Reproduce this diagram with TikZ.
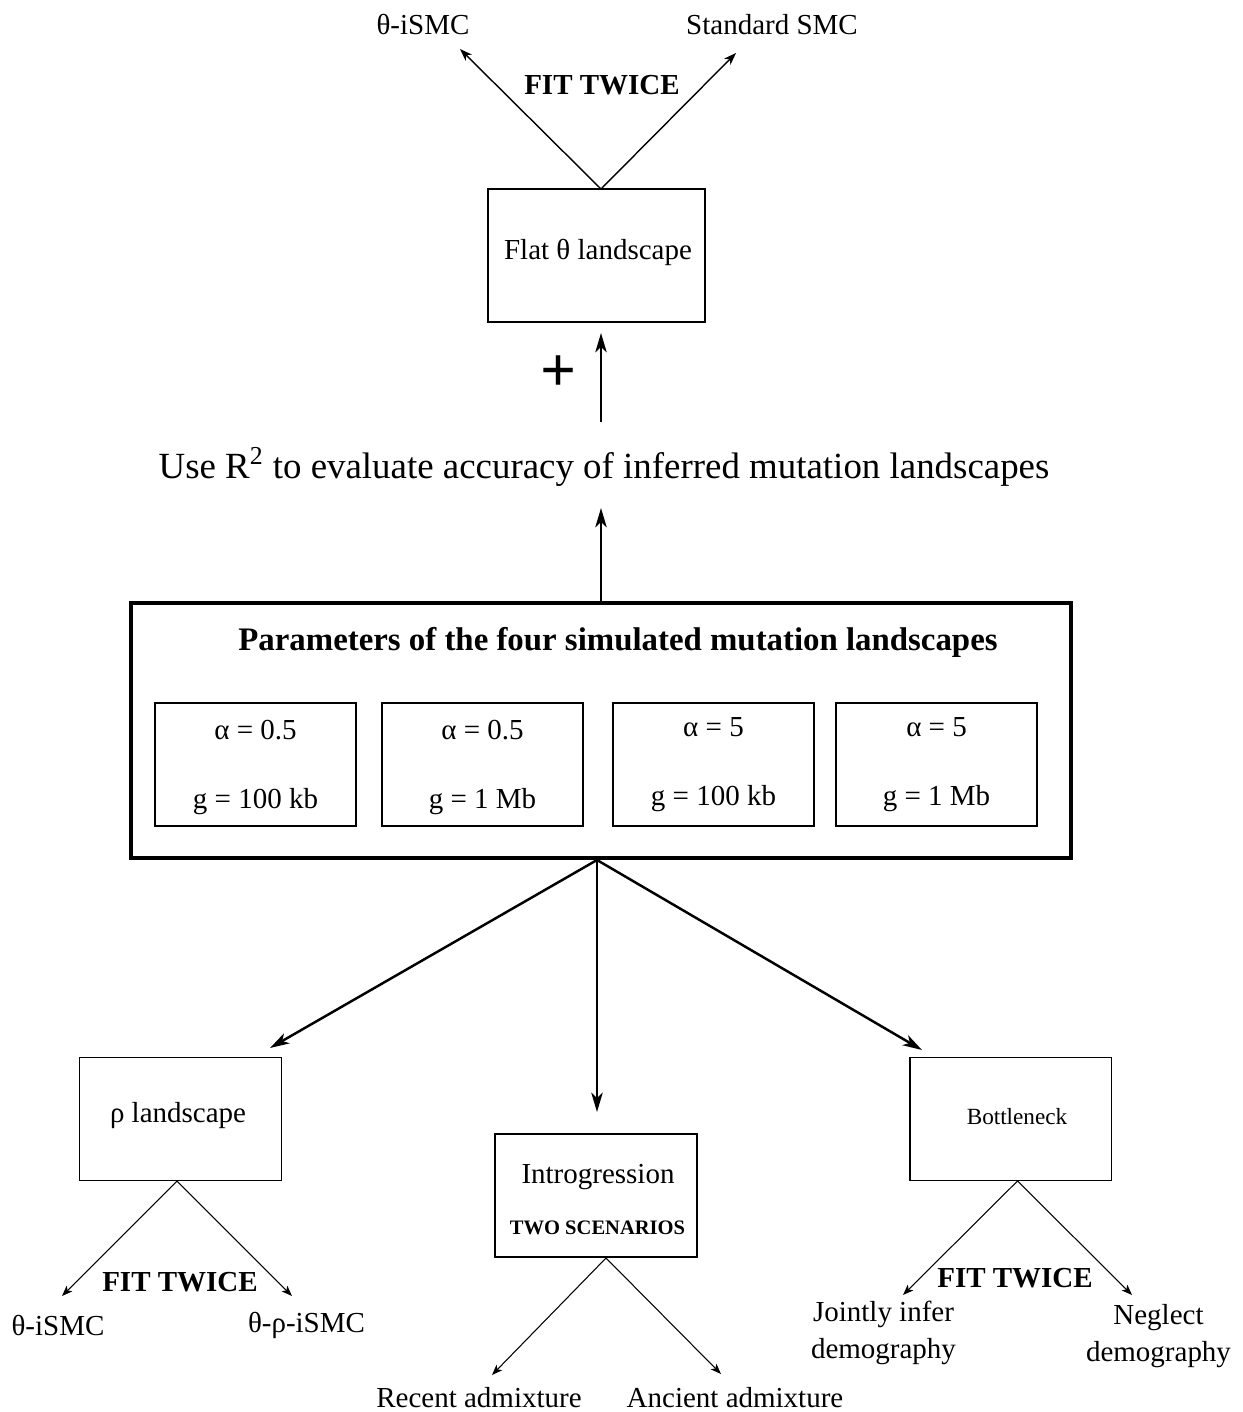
\documentclass[tikz,border=0pt]{standalone}
\usepackage{fontspec}
\setmainfont{Liberation Serif}
\usetikzlibrary{arrows.meta}
\begin{document}
\begin{tikzpicture}[x=0.02cm,y=-0.02cm,
  every node/.style={inner sep=0pt, outer sep=0pt},
  lbl/.style={font=\fontsize{16.5}{21}\selectfont, align=center},
  fitlbl/.style={font=\fontsize{16.5}{20}\selectfont\bfseries},
  sbox/.style={draw, line width=1.1pt, minimum width=4.04cm, minimum height=2.46cm},
  pbox/.style={draw, line width=1.1pt, minimum width=4.02cm, minimum height=2.46cm},
  thinarr/.style={-{Stealth[length=7pt,width=5pt,inset=2pt]}, line width=0.8pt},
  mainarr/.style={-{Stealth[length=11pt,width=6.5pt,inset=3pt]}, line width=1.4pt},
  splitarr/.style={-{Stealth[length=6pt,width=4.5pt,inset=1.5pt]}, line width=0.6pt}
]
\useasboundingbox (0,0) rectangle (1242,1412);

% ---- top part
\node[draw, line width=1.1pt, minimum width=4.34cm, minimum height=2.66cm] (flat) at (596.5,255.5) {};
\node[lbl] (flattxt) at (598,252) {Flat θ landscape};
\node[lbl] (topL) at (423,25) {θ-iSMC};
\node[lbl] (topR) at (772,25) {Standard SMC};
\node[fitlbl] (fit1) at (602,85) {FIT TWICE};
\coordinate (apex1) at (601,189);
\coordinate (tl) at (460,49);
\coordinate (tr) at (736,53);
\draw[thinarr] (apex1) -- (tl);
\draw[thinarr] (apex1) -- (tr);

\node[font=\fontsize{36}{36}\selectfont\bfseries] (plus) at (559,374) {+};
\coordinate (u1) at (601,422);
\coordinate (u2) at (601,333);
\draw[mainarr, line width=1.2pt] (u1) -- (u2);

\node[font=\fontsize{21}{25}\selectfont] (use) at (604,467) {Use R\textsuperscript{2} to evaluate accuracy of inferred mutation landscapes};

% ---- parameter box
\node[draw, line width=2.3pt, minimum width=18.8cm, minimum height=5.1cm] (big) at (601,730.5) {};
\coordinate (b1) at (601,601);
\coordinate (b2) at (601,508);
\draw[mainarr, line width=1.2pt] (b1) -- (b2);
\node[font=\fontsize{18.7}{22}\selectfont\bfseries] (title) at (618,642) {Parameters of the four simulated mutation landscapes};

\node[pbox] (p1) at (255.5,764.5) {};
\node[pbox] (p2) at (482.5,764.5) {};
\node[pbox] (p3) at (713.5,764.5) {};
\node[pbox] (p4) at (936.5,764.5) {};
\node[lbl] (a1) at (255.5,730) {α = 0.5};
\node[lbl] (a2) at (482.5,730) {α = 0.5};
\node[lbl] (a3) at (713.5,727) {α = 5};
\node[lbl] (a4) at (936.5,727) {α = 5};
\node[lbl] (g1) at (255.5,802) {g = 100 kb};
\node[lbl] (g2) at (482.5,802) {g = 1 Mb};
\node[lbl] (g3) at (713.5,799) {g = 100 kb};
\node[lbl] (g4) at (936.5,799) {g = 1 Mb};

% ---- lower boxes
\node[sbox] (rho) at (180.5,1119) {};
\node[lbl] (rhotxt) at (178,1116) {ρ landscape};
\node[sbox] (intro) at (596,1195.5) {};
\node[lbl] (introtxt) at (598,1177) {Introgression};
\node[font=\fontsize{11.7}{14}\selectfont\bfseries] (two) at (597.5,1228) {TWO SCENARIOS};
\node[sbox] (bott) at (1010.5,1119) {};
\node[font=\fontsize{13.2}{16}\selectfont] (botttxt) at (1017,1117) {Bottleneck};

\coordinate (bs) at (597,860);
\coordinate (eL) at (270,1048);
\coordinate (eM) at (597,1112);
\coordinate (eR) at (922,1050);
\draw[mainarr] (bs) -- (eL);
\draw[mainarr] (bs) -- (eM);
\draw[mainarr] (bs) -- (eR);

% rho split
\coordinate (ra) at (177,1181);
\coordinate (rl) at (62,1296);
\coordinate (rr) at (292,1296);
\draw[splitarr] (ra) -- (rl);
\draw[splitarr] (ra) -- (rr);
\node[fitlbl] (fit2) at (180,1282) {FIT TWICE};
\node[lbl] (rhoL) at (58,1325) {θ-iSMC};
\node[lbl] (rhoR) at (306.5,1325) {θ-ρ-iSMC};

% introgression split
\coordinate (ia) at (606,1258);
\coordinate (il) at (492,1375);
\coordinate (ir) at (721,1374);
\draw[splitarr] (ia) -- (il);
\draw[splitarr] (ia) -- (ir);
\node[lbl] (recent) at (479,1398) {Recent admixture};
\node[lbl] (ancient) at (735,1398) {Ancient admixture};

% bottleneck split
\coordinate (ba) at (1017.5,1181);
\coordinate (bl) at (903,1295);
\coordinate (br) at (1132,1295);
\draw[splitarr] (ba) -- (bl);
\draw[splitarr] (ba) -- (br);
\node[fitlbl] (fit3) at (1015,1278) {FIT TWICE};
\node[lbl] (joint) at (883.5,1333) {Jointly infer\\demography};
\node[lbl] (neglect) at (1158.5,1336) {Neglect\\demography};
\end{tikzpicture}
\end{document}
